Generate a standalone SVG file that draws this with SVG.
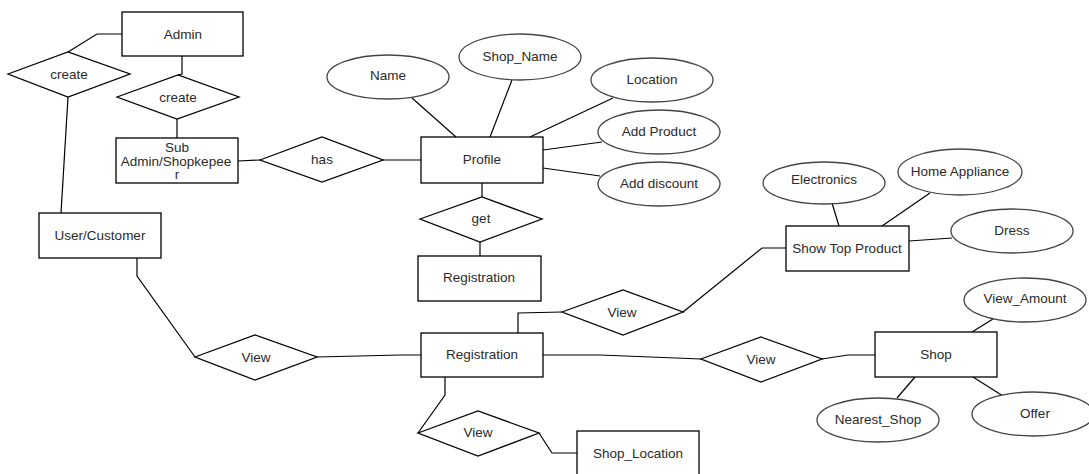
<svg xmlns="http://www.w3.org/2000/svg" width="1089" height="474" viewBox="0 0 1089 474">
<style>
.e{fill:#fff;stroke:#000;stroke-width:1.3}
.a{fill:#fff;stroke:#444;stroke-width:1.3}
.c{fill:none;stroke:#000;stroke-width:1.2}
text{font-family:"Liberation Sans",Arial,sans-serif;font-size:13.5px;fill:#2a2a2a;text-anchor:middle;dominant-baseline:central}
</style>
<rect width="1089" height="474" fill="#fff"/>
<g id="connectors">
<polyline class="c" points="122,34 97,34 68,52"/>
<line class="c" x1="68" y1="97" x2="61" y2="213"/>
<polyline class="c" points="182,56 182,74 178,75"/>
<line class="c" x1="177" y1="119" x2="177" y2="138"/>
<line class="c" x1="238" y1="161" x2="260" y2="160"/>
<line class="c" x1="383" y1="160" x2="421" y2="160"/>
<line class="c" x1="412" y1="98" x2="456" y2="137"/>
<line class="c" x1="512" y1="80" x2="490" y2="137"/>
<line class="c" x1="613" y1="98" x2="530" y2="137"/>
<line class="c" x1="543" y1="150" x2="602" y2="142"/>
<line class="c" x1="543" y1="168" x2="600" y2="176"/>
<line class="c" x1="482" y1="183" x2="482" y2="197"/>
<line class="c" x1="480" y1="238" x2="480" y2="256"/>
<polyline class="c" points="137,258 137,276 195,357"/>
<polyline class="c" points="317,357 400,355 421,355"/>
<polyline class="c" points="518,333 518,313 562,312"/>
<polyline class="c" points="683,312 762,248 786,248"/>
<line class="c" x1="832" y1="203" x2="839" y2="226"/>
<line class="c" x1="930" y1="193" x2="882" y2="226"/>
<line class="c" x1="909" y1="241" x2="952" y2="238"/>
<polyline class="c" points="543,355 600,355 701,359"/>
<polyline class="c" points="822,359 848,355 875,355"/>
<line class="c" x1="972" y1="332" x2="993" y2="319"/>
<line class="c" x1="915" y1="377" x2="897" y2="398"/>
<line class="c" x1="973" y1="377" x2="1003" y2="396"/>
<polyline class="c" points="445,377 445,395 418,433"/>
<polyline class="c" points="539,433 552,453 577,453"/>
</g>
<g id="admin"><rect class="e" x="122" y="12" width="121" height="44"/><text x="183" y="34">Admin</text></g>
<g id="create1"><polygon class="e" points="8,74 68,52 130,74 68,97"/><text x="69" y="74">create</text></g>
<g id="create2"><polygon class="e" points="117,97 178,75 239,97 177,119"/><text x="178" y="97">create</text></g>
<g id="subadmin"><rect class="e" x="116" y="138" width="122" height="45"/><text x="177" y="147">Sub</text><text x="176" y="161">Admin/Shopkepee</text><text x="177" y="174">r</text></g>
<g id="has"><polygon class="e" points="260,160 322,137 383,160 322,182"/><text x="322" y="159">has</text></g>
<g id="user"><rect class="e" x="39" y="213" width="122" height="45"/><text x="100" y="235">User/Customer</text></g>
<g id="name"><ellipse class="a" cx="388" cy="77" rx="61" ry="22"/><text x="388" y="75">Name</text></g>
<g id="shopname"><ellipse class="a" cx="520" cy="57" rx="61" ry="23"/><text x="520" y="56">Shop_Name</text></g>
<g id="location"><ellipse class="a" cx="652" cy="80" rx="61" ry="22"/><text x="652" y="79">Location</text></g>
<g id="addproduct"><ellipse class="a" cx="659" cy="132" rx="61" ry="22"/><text x="659" y="131">Add Product</text></g>
<g id="adddiscount"><ellipse class="a" cx="659" cy="184" rx="61" ry="22"/><text x="659" y="183">Add discount</text></g>
<g id="profile"><rect class="e" x="421" y="137" width="122" height="46"/><text x="482" y="159">Profile</text></g>
<g id="get"><polygon class="e" points="420,219 482,197 542,219 480,242"/><text x="481" y="218">get</text></g>
<g id="registration1"><rect class="e" x="418" y="256" width="123" height="45"/><text x="479" y="277">Registration</text></g>
<g id="view1"><polygon class="e" points="195,357 255,335 317,357 255,380"/><text x="256" y="357">View</text></g>
<g id="registration2"><rect class="e" x="421" y="333" width="122" height="44"/><text x="482" y="354">Registration</text></g>
<g id="view2"><polygon class="e" points="562,312 623,290 683,312 623,335"/><text x="622" y="312">View</text></g>
<g id="showtop"><rect class="e" x="786" y="226" width="123" height="45"/><text x="847" y="248">Show Top Product</text></g>
<g id="electronics"><ellipse class="a" cx="824" cy="183" rx="61" ry="21"/><text x="824" y="179">Electronics</text></g>
<g id="homeappliance"><ellipse class="a" cx="960" cy="172" rx="62" ry="23"/><text x="960" y="171">Home Appliance</text></g>
<g id="dress"><ellipse class="a" cx="1012" cy="231" rx="61" ry="22"/><text x="1012" y="230">Dress</text></g>
<g id="view3"><polygon class="e" points="701,359 761,337 822,359 761,382"/><text x="761" y="359">View</text></g>
<g id="shop"><rect class="e" x="875" y="332" width="122" height="45"/><text x="936" y="354">Shop</text></g>
<g id="viewamount"><ellipse class="a" cx="1025" cy="300" rx="61" ry="22"/><text x="1025" y="298">View_Amount</text></g>
<g id="nearestshop"><ellipse class="a" cx="878" cy="420" rx="61" ry="22"/><text x="878" y="419">Nearest_Shop</text></g>
<g id="offer"><ellipse class="a" cx="1033" cy="414" rx="61" ry="22"/><text x="1035" y="413">Offer</text></g>
<g id="view4"><polygon class="e" points="418,433 478,411 539,433 478,456"/><text x="478" y="432">View</text></g>
<g id="shoplocation"><rect class="e" x="577" y="431" width="122" height="46"/><text x="638" y="453">Shop_Location</text></g>
</svg>
